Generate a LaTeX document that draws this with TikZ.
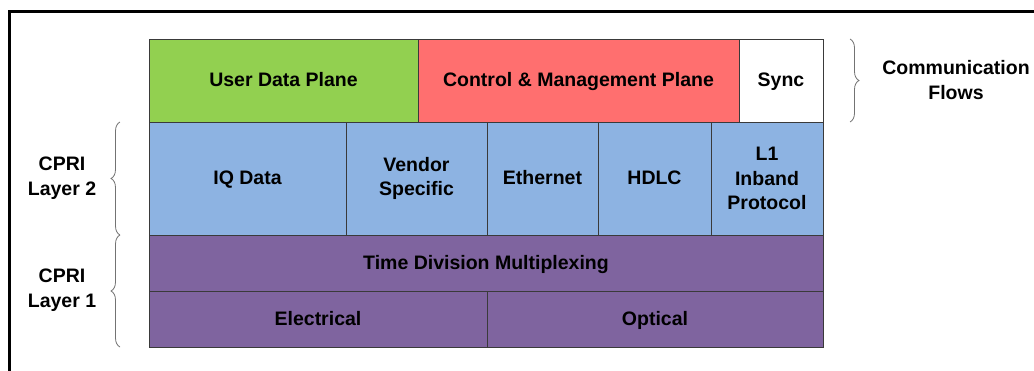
\documentclass[tikz,border=0pt]{standalone}
\usepackage{fontspec}
\setmainfont{Liberation Sans}
\usetikzlibrary{decorations.pathreplacing}
\definecolor{cgreen}{HTML}{92D050}
\definecolor{cred}{HTML}{FF6F6F}
\definecolor{cblue}{HTML}{8DB3E2}
\definecolor{cpurple}{HTML}{7F649F}
\definecolor{cline}{HTML}{3A3A3A}
\tikzset{
  cell/.style={draw=cline, line width=0.8pt, inner sep=2pt, align=center,
    font=\fontsize{19.5}{24.5}\selectfont\bfseries, text=black},
  one/.style={text height=15pt, text depth=3pt},
  lbl/.style={align=center, font=\fontsize{19.5}{24.5}\selectfont\bfseries, text=black},
  brc/.style={draw=black!55, line width=0.8pt, decorate,
    decoration={brace, amplitude=9pt}},
}
\begin{document}
\begin{tikzpicture}[x=1pt,y=-1pt]
\useasboundingbox (0,0) rectangle (1034,370);
\fill[white] (0,0) rectangle (1034,370);
% frame
\draw[line width=3pt, black] (9,372) -- (9,11) -- (1036,11);
% row 1
\node[cell, one, fill=cgreen, minimum width=269pt, minimum height=83pt] (udp) at (283.5,80.5) {User Data Plane};
\node[cell, one, fill=cred, minimum width=321pt, minimum height=83pt] (cmp) at (578.5,80.5) {Control \& Management Plane};
\node[cell, one, fill=white, minimum width=84pt, minimum height=83pt] (sync) at (781,80.5) {Sync};
% row 2
\node[cell, one, fill=cblue, minimum width=197pt, minimum height=113pt] (iq) at (247.5,178.5) {IQ Data};
\node[cell, fill=cblue, minimum width=141pt, minimum height=113pt] (vs) at (416.5,178.5) {Vendor\\Specific};
\node[cell, one, fill=cblue, minimum width=111pt, minimum height=113pt] (eth) at (542.5,178.5) {Ethernet};
\node[cell, one, fill=cblue, minimum width=113pt, minimum height=113pt] (hdlc) at (654.5,178.5) {HDLC};
\node[cell, fill=cblue, minimum width=112pt, minimum height=113pt] (l1) at (767,178.5) {L1\\Inband\\Protocol};
% row 3
\node[cell, one, fill=cpurple, minimum width=674pt, minimum height=56pt] (tdm) at (486,263) {Time Division Multiplexing};
% row 4
\node[cell, one, fill=cpurple, minimum width=338pt, minimum height=56pt] (elec) at (318,319) {Electrical};
\node[cell, one, fill=cpurple, minimum width=336pt, minimum height=56pt] (opt) at (655,319) {Optical};
% braces
\coordinate (b1s) at (850,39);
\coordinate (b1e) at (850,122);
\draw[brc] (b1s) -- (b1e);
\coordinate (b2s) at (120,235);
\coordinate (b2e) at (120,122);
\draw[brc] (b2s) -- (b2e);
\coordinate (b3s) at (120,347);
\coordinate (b3e) at (120,235);
\draw[brc] (b3s) -- (b3e);
% labels
\node[lbl] (cf) at (956,80) {Communication\\Flows};
\node[lbl] (cl2) at (62,178) {CPRI\\Layer 2};
\node[lbl] (cl1) at (62,290) {CPRI\\Layer 1};
\end{tikzpicture}
\end{document}
